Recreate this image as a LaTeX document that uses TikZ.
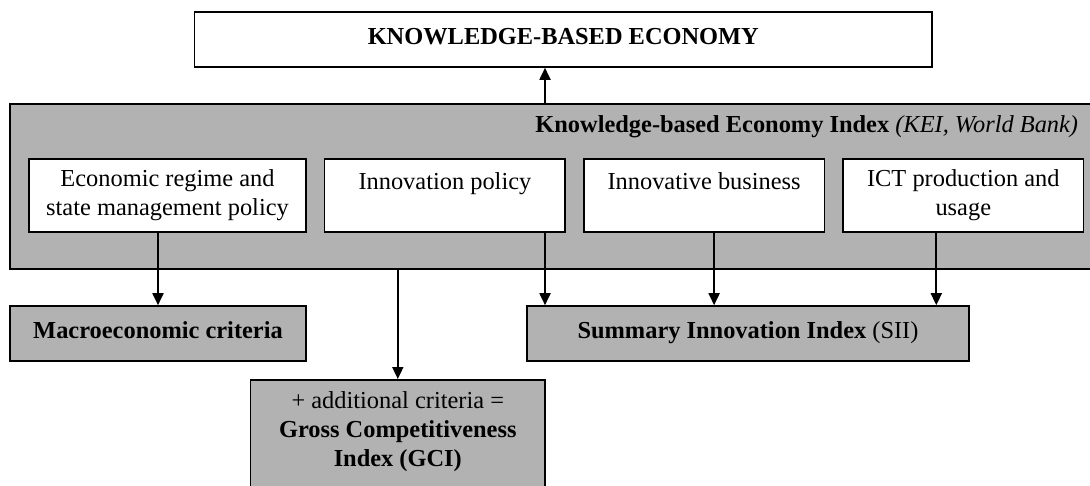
\documentclass[tikz,border=0pt]{standalone}
\usepackage{fontspec}
\setmainfont{Liberation Serif}
\usetikzlibrary{
    arrows.meta,
    positioning,
    calc,
}
\definecolor{indexgray}{RGB}{178,178,178}

\begin{document}
\begin{tikzpicture}[
    x=0.5pt, y=-0.5pt,
    >={Triangle[length=6pt,width=5.5pt]},
    every node/.style={font=\fontsize{12.2}{14.5}\selectfont},
    block/.style={draw, line width=0.8pt, align=center, inner sep=0pt},
    factor/.style={block, fill=white, minimum height=36.5pt, minimum width=120.3pt},
    criteria/.style={block, fill=indexgray, minimum height=27.5pt,
                text height=8.2pt, text depth=3.4pt},
    link/.style={->, line width=0.9pt},
]
\useasboundingbox (0,0) rectangle (1090,486);

\node[block, fill=white, minimum width=368.9pt, minimum height=27.5pt,
      text height=8.2pt, text depth=3.4pt] (kbe) at (563.3,39.5) {\textbf{KNOWLEDGE-BASED ECONOMY}};

% index frame with its four components
\node[block, fill=indexgray, minimum width=545pt, minimum height=82.5pt] (keibox) at (555,186.5) {};
\node[anchor=base east, inner sep=0pt] (keititle) at (1078.5,133) {\textbf{Knowledge-based Economy Index} \textit{(KEI, World Bank)}};

\node[factor, minimum width=138.5pt] (econ) at (167.5,195.5) {Economic regime and\\state management policy};
\node[factor] (innov) [right=8.5pt of econ] {Innovation policy\\\mbox{}};
\node[factor] (busi) [right=8.5pt of innov] {Innovative business\\\mbox{}};
\node[factor] (ict) [right=8.5pt of busi] {ICT production and\\usage};

% resulting indices
\node[criteria, minimum width=148pt] (macro) at (158,333.5) {\textbf{Macroeconomic criteria}};
\node[criteria, minimum width=221pt] (sii) at (748,333.5) {\textbf{Summary Innovation Index} (SII)};
\node[block, fill=indexgray, minimum width=147.2pt, anchor=north, inner ysep=6pt] (gci) at (397.8,379) {+ additional criteria =\\\textbf{Gross Competitiveness}\\\textbf{Index (GCI)}\\\mbox{}};

\coordinate (axis) at (545,0);
\draw[link] (keibox.north -| axis) -- (kbe.south -| axis);
\draw[link] (econ.south -| macro.north) -- (macro.north);
\draw[link] (keibox.south -| gci.north) -- (gci.north);
\draw[link] (innov.south -| axis) -- (sii.north -| axis);
\draw[link] ([xshift=5pt]busi.south) -- ([xshift=5pt]busi.south |- sii.north);
\draw[link] ([xshift=-13.5pt]ict.south) -- ([xshift=-13.5pt]ict.south |- sii.north);

\end{tikzpicture}
\end{document}
